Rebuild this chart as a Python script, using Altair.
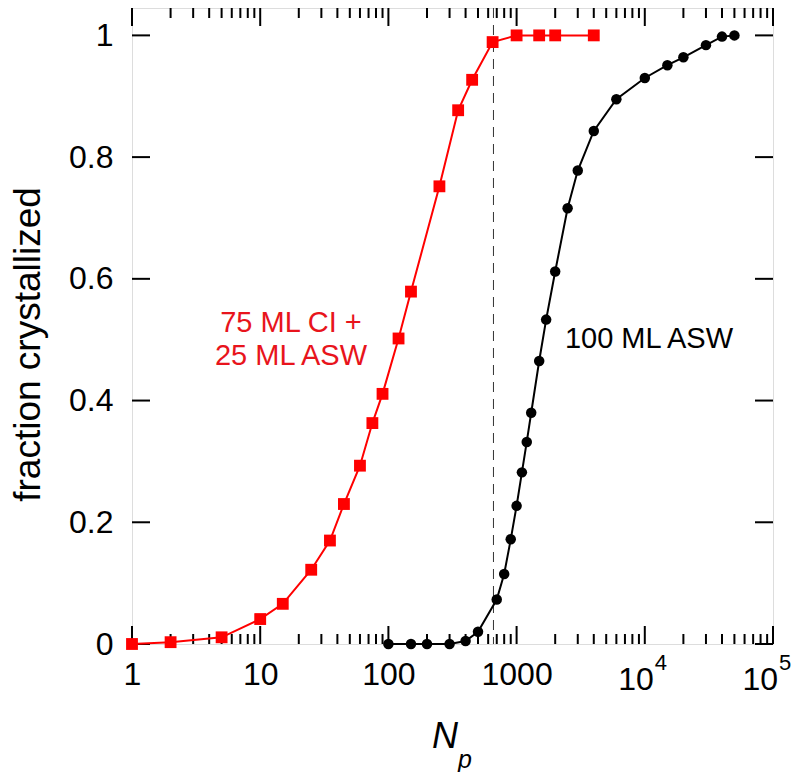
import altair as alt
import pandas as pd

# ---- data ----
red_np = [1, 2, 5, 10, 15, 25, 35, 45, 60, 75, 90, 120, 150, 250, 350, 450, 650, 1000, 1500, 2000, 4000]
red_frac = [0.0, 0.003, 0.011, 0.041, 0.066, 0.122, 0.170, 0.230, 0.293, 0.363, 0.411, 0.502, 0.579,
            0.752, 0.877, 0.927, 0.989, 1.0, 1.0, 1.0, 1.0]

blk_np = [100, 150, 200, 300, 400, 500, 700, 800, 900, 1000, 1100, 1200, 1300, 1500, 1700, 2000,
          2500, 3000, 4000, 6000, 10000, 15000, 20000, 30000, 40000, 50000]
blk_frac = [0.0, 0.0, 0.0, 0.0, 0.005, 0.020, 0.073, 0.115, 0.172, 0.227, 0.282, 0.332, 0.380, 0.465,
            0.533, 0.612, 0.716, 0.778, 0.843, 0.895, 0.930, 0.951, 0.964, 0.984, 0.998, 1.0]

dashed_np = [660]

x_major = [1, 10, 100, 1000, 10000, 100000]
x_minor = [m * d for d in [1, 10, 100, 1000, 10000] for m in range(2, 10)]
y_major = [0, 0.2, 0.4, 0.6, 0.8, 1.0]

pow_vals = [10000, 100000]
pow_base = ["10", "10"]
pow_exp = ["4", "5"]

red_label = "75 ML CI +\n25 ML ASW"
blk_label = "100 ML ASW"

# ---- layout ----
W, H = 641, 636
FONT = "Liberation Sans"

xscale = alt.Scale(type="log", domain=[1, 100000], nice=False)
yscale = alt.Scale(domain=[0, 1.045], nice=False, zero=False)

xaxis = alt.Axis(
    values=x_major, title=None, grid=False, domain=False, ticks=False,
    labelFontSize=32, labelFont=FONT, labelColor="black", labelPadding=15,
    labelFlush=False, labelOverlap=False, labelBound=False,
    labelExpr="datum.value >= 10000 ? '' : format(datum.value, 'd')",
)
yaxis = alt.Axis(
    values=y_major, title="fraction crystallized", grid=False, domain=False, ticks=False,
    labelFontSize=32, labelFont=FONT, labelColor="black", labelPadding=19,
    labelExpr="datum.value == 0 ? '0' : datum.value == 1 ? '1' : format(datum.value, '.1f')",
    titleFont=FONT, titleFontSize=37, titleFontWeight="normal", titleColor="black",
    titleAngle=270, titleAlign="center", titleBaseline="middle", titleX=-104, titleY=336,
)

def X(field):
    return alt.X(f"{field}:Q", scale=xscale, axis=xaxis)

def Y(field):
    return alt.Y(f"{field}:Q", scale=yscale, axis=yaxis)

red_df = pd.DataFrame({"np": red_np, "frac": red_frac})
blk_df = pd.DataFrame({"np": blk_np, "frac": blk_frac})
major_df = pd.DataFrame({"v": x_major})
minor_df = pd.DataFrame({"v": x_minor})
ymaj_df = pd.DataFrame({"v": y_major})
dash_df = pd.DataFrame({"v": dashed_np})
pow_df = pd.DataFrame({"v": pow_vals, "base": pow_base, "exp": pow_exp})

tick_w = 2
layers = []
# x ticks, bottom and top (inward)
layers.append(alt.Chart(major_df).mark_rule(color="black", strokeWidth=tick_w).encode(
    x=X("v"), y=alt.value(H), y2=alt.value(H - 18)))
layers.append(alt.Chart(major_df).mark_rule(color="black", strokeWidth=tick_w).encode(
    x=X("v"), y=alt.value(0), y2=alt.value(18)))
layers.append(alt.Chart(minor_df).mark_rule(color="black", strokeWidth=tick_w).encode(
    x=X("v"), y=alt.value(H), y2=alt.value(H - 10)))
layers.append(alt.Chart(minor_df).mark_rule(color="black", strokeWidth=tick_w).encode(
    x=X("v"), y=alt.value(0), y2=alt.value(10)))
# y ticks, left and right (inward)
layers.append(alt.Chart(ymaj_df).mark_rule(color="black", strokeWidth=tick_w).encode(
    y=Y("v"), x=alt.value(0), x2=alt.value(18)))
layers.append(alt.Chart(ymaj_df).mark_rule(color="black", strokeWidth=tick_w).encode(
    y=Y("v"), x=alt.value(W - 18), x2=alt.value(W)))
# power-of-ten tick labels (10^4, 10^5); the last one nudged so it stays on the page
for i, shift in enumerate([9, 5]):
    one = pow_df.iloc[[i]]
    layers.append(alt.Chart(one).mark_text(
        font=FONT, fontSize=32, color="black", align="right", baseline="alphabetic", dx=shift).encode(
        x=X("v"), y=alt.value(H + 46), text="base:N"))
    layers.append(alt.Chart(one).mark_text(
        font=FONT, fontSize=22, color="black", align="left", baseline="alphabetic", dx=shift + 1).encode(
        x=X("v"), y=alt.value(H + 26), text="exp:N"))
# dashed vertical line
layers.append(alt.Chart(dash_df).mark_rule(color="#333333", strokeWidth=1, strokeDash=[10, 7]).encode(
    x=X("v"), y=alt.value(0), y2=alt.value(H)))
# series
layers.append(alt.Chart(red_df).mark_line(color="#ff0000", strokeWidth=2).encode(x=X("np"), y=Y("frac")))
layers.append(alt.Chart(red_df).mark_point(shape="square", filled=True, opacity=1, color="#ff0000", size=140).encode(
    x=X("np"), y=Y("frac")))
layers.append(alt.Chart(blk_df).mark_line(color="black", strokeWidth=2).encode(x=X("np"), y=Y("frac")))
layers.append(alt.Chart(blk_df).mark_point(shape="circle", filled=True, opacity=1, color="black", size=110).encode(
    x=X("np"), y=Y("frac")))
# annotations
ann = pd.DataFrame({"t": [red_label]})
layers.append(alt.Chart(ann).mark_text(
    font=FONT, fontSize=29, color="#e8141c", align="center", baseline="alphabetic",
    lineBreak="\n", lineHeight=33).encode(text="t:N", x=alt.value(159), y=alt.value(324)))
ann2 = pd.DataFrame({"t": [blk_label]})
layers.append(alt.Chart(ann2).mark_text(
    font=FONT, fontSize=29, color="black", align="center", baseline="alphabetic").encode(
    text="t:N", x=alt.value(517), y=alt.value(340)))
# x-axis title N_p
tN = pd.DataFrame({"t": ["N"]})
layers.append(alt.Chart(tN).mark_text(
    font=FONT, fontSize=36, fontStyle="italic", color="black", align="left", baseline="alphabetic").encode(
    text="t:N", x=alt.value(300), y=alt.value(740)))
tp = pd.DataFrame({"t": ["p"]})
layers.append(alt.Chart(tp).mark_text(
    font=FONT, fontSize=25, fontStyle="italic", color="black", align="left", baseline="alphabetic").encode(
    text="t:N", x=alt.value(326), y=alt.value(760)))

chart = alt.layer(*layers).properties(
    width=W, height=H,
    autosize=alt.AutoSizeParams(type="none"),
    padding={"left": 124, "top": 0, "right": 18, "bottom": 128},
    background="white",
).configure_view(stroke="black", strokeWidth=2).configure(font=FONT)

chart.save("out.html", embed_options={"renderer": "svg", "actions": False})
